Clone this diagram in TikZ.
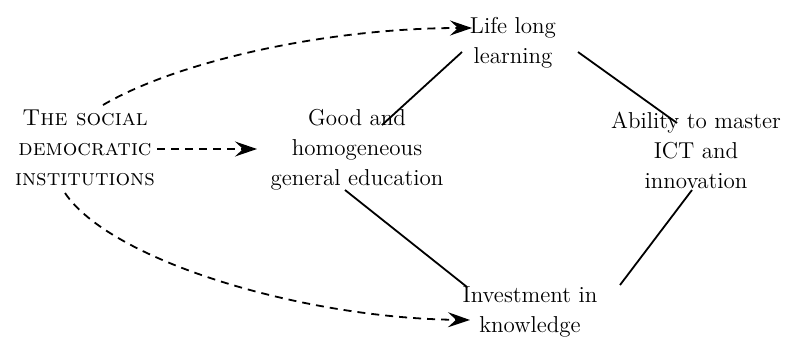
\documentclass[tikz,border=0pt]{standalone}
\usetikzlibrary{arrows.meta}
\begin{document}
\begin{tikzpicture}[x=0.5pt,y=-0.5pt,
  txt/.style={align=center,inner sep=0pt,font=\fontsize{11.5pt}{15pt}\selectfont},
  solidline/.style={line width=0.9pt},
  dashline/.style={line width=0.9pt,dash pattern=on 4pt off 3pt,-{Stealth[length=11pt,width=7.5pt,inset=4pt]}}]
\useasboundingbox (0,0) rectangle (787,338);
\node[txt] (soc) at (85,148) {\textsc{The social}\\\textsc{democratic}\\\textsc{institutions}};
\node[txt] (good) at (357,150) {Good and\\homogeneous\\general education};
\node[txt] (life) at (513,43) {Life long\\learning};
\node[txt] (abil) at (696,150) {Ability to master\\ICT and\\innovation};
\node[txt] (inv) at (530,312) {Investment in\\knowledge};
\draw[solidline] ([shift={(25,-25)}]good.center) -- ([shift={(-51,9)}]life.center);
\draw[solidline] ([shift={(65,9)}]life.center) -- ([shift={(-19,-27)}]abil.center);
\draw[solidline] ([shift={(-4,40)}]abil.center) -- ([shift={(90,-27)}]inv.center);
\draw[solidline] ([shift={(-12,40)}]good.center) -- ([shift={(-63,-25)}]inv.center);
\draw[dashline] ([shift={(18,-43)}]soc.center) .. controls +(77,-45) and +(-142,0) .. ([shift={(-41,-15)}]life.center);
\draw[dashline] ([shift={(72,1)}]soc.center) -- ([shift={(-100,-1)}]good.center);
\draw[dashline] ([shift={(-20,45)}]soc.center) .. controls +(45,67) and +(-170,-2) .. ([shift={(-60,8)}]inv.center);
\end{tikzpicture}
\end{document}
